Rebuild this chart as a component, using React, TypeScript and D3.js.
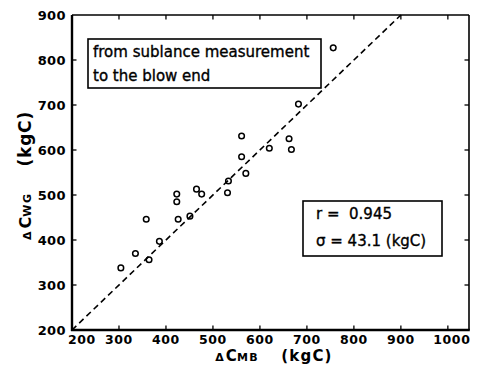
import React from "react";
import * as d3 from "d3";

const cmb = [304, 335, 358, 364, 386, 423, 423, 426, 451, 465, 476, 531, 533, 561, 561, 570, 620, 662, 667, 682, 756];
const cwg = [338, 370, 446, 356, 397, 502, 485, 446, 453, 513, 502, 505, 531, 631, 585, 548, 604, 625, 601, 702, 827];
const xTicks = [200, 300, 400, 500, 600, 700, 800, 900, 1000];
const yTicks = [200, 300, 400, 500, 600, 700, 800, 900];
const refLine = [200, 900];
const noteLines = ["from sublance measurement", "to the blow end"];
const statLines = ["r =  0.945", "σ = 43.1 (kgC)"];

const W = 477, H = 372;
const M = { left: 72, right: 469, top: 15, bottom: 330 };
const FONT = "'DejaVu Sans', Arial, sans-serif";

export default function App() {
  const x = d3.scaleLinear().domain([200, 1045]).range([M.left, M.right]);
  const y = d3.scaleLinear().domain([200, 900]).range([M.bottom, M.top]);
  const line = d3.line<number>().x((d) => x(d)).y((d) => y(d));
  const pts = cmb.map((v, i) => ({ x: v, y: cwg[i] }));
  const tl = 4.5;
  return (
    <div style={{ position: "absolute", left: 0, top: 0 }}>
      <svg width={W} height={H} style={{ display: "block", background: "#fff" }}>
        {/* frame */}
        <line x1={M.left} y1={M.top} x2={M.right} y2={M.top} stroke="#000" strokeWidth={1.6} />
        <line x1={M.right} y1={M.top} x2={M.right} y2={M.bottom} stroke="#000" strokeWidth={1.6} />
        <line x1={M.left} y1={M.top} x2={M.left} y2={M.bottom + 1} stroke="#000" strokeWidth={2.4} />
        <line x1={M.left - 1} y1={M.bottom} x2={M.right + 0.8} y2={M.bottom} stroke="#000" strokeWidth={2.6} />
        {/* ticks */}
        {xTicks.slice(1).map((t) => (
          <g key={"xt" + t}>
            <line x1={x(t)} x2={x(t)} y1={M.bottom} y2={M.bottom - tl} stroke="#000" strokeWidth={1.3} />
            <line x1={x(t)} x2={x(t)} y1={M.top} y2={M.top + tl} stroke="#000" strokeWidth={1.3} />
          </g>
        ))}
        {yTicks.slice(1, -1).map((t) => (
          <g key={"yt" + t}>
            <line x1={M.left} x2={M.left + tl} y1={y(t)} y2={y(t)} stroke="#000" strokeWidth={1.3} />
            <line x1={M.right} x2={M.right - tl} y1={y(t)} y2={y(t)} stroke="#000" strokeWidth={1.3} />
          </g>
        ))}
        {/* tick labels */}
        {xTicks.map((t, i) => (
          <text
            key={"xl" + t}
            x={i === 0 ? x(t) - 4 : i === xTicks.length - 1 ? x(t) + 4 : x(t)}
            y={M.bottom + 13.5}
            textAnchor={i === 0 ? "start" : "middle"}
            fontFamily={FONT}
            fontWeight="bold"
            fontSize={12.5}
            letterSpacing={0.6}
            fill="#000"
          >
            {t}
          </text>
        ))}
        {yTicks.map((t) => (
          <text
            key={"yl" + t}
            x={M.left - 6}
            y={y(t) + 4.8}
            textAnchor="end"
            fontFamily={FONT}
            fontWeight="bold"
            fontSize={13}
            letterSpacing={0.4}
            fill="#000"
          >
            {t}
          </text>
        ))}
        {/* reference line */}
        <path d={line(refLine) || ""} fill="none" stroke="#000" strokeWidth={1.6} strokeDasharray="6,4" />
        {/* points */}
        {pts.map((p, i) => (
          <circle key={i} cx={x(p.x)} cy={y(p.y)} r={2.8} fill="none" stroke="#000" strokeWidth={1.5} />
        ))}
        {/* note box */}
        <rect x={88} y={39} width={233} height={49} fill="#fff" stroke="#000" strokeWidth={1.6} />
        {noteLines.map((s, i) => (
          <text key={s} x={93} y={57 + i * 24} fontFamily={FONT} fontSize={15} fill="#000" stroke="#000" strokeWidth={0.35}>
            {s}
          </text>
        ))}
        {/* stats box */}
        <rect x={303} y={201} width={139} height={55} fill="#fff" stroke="#000" strokeWidth={1.6} />
        {statLines.map((s, i) => (
          <text key={s} x={316} y={219 + i * 27} fontFamily={FONT} fontSize={15} fill="#000" stroke="#000" strokeWidth={0.35} style={{ whiteSpace: "pre" }}>
            {s}
          </text>
        ))}
        {/* x title */}
        <text x={274} y={361} textAnchor="middle" fontFamily={FONT} fontWeight="bold" fill="#000" style={{ whiteSpace: "pre" }}>
          <tspan fontSize={11}>Δ</tspan>
          <tspan fontSize={15} dx={2}>C</tspan>
          <tspan fontSize={11} letterSpacing={1.5}>MB</tspan>
          <tspan fontSize={15} dx={22} letterSpacing={1.2}>(kgC)</tspan>
        </text>
        {/* y title */}
        <text
          transform={`translate(31,${(M.top + M.bottom) / 2 + 3}) rotate(-90)`}
          textAnchor="middle"
          fontFamily={FONT}
          fontWeight="bold"
          fill="#000"
          style={{ whiteSpace: "pre" }}
        >
          <tspan fontSize={11}>Δ</tspan>
          <tspan fontSize={16} dx={3}>C</tspan>
          <tspan fontSize={11} letterSpacing={1.5}>WG</tspan>
          <tspan fontSize={17} dx={26} letterSpacing={0.8}>(kgC)</tspan>
        </text>
      </svg>
    </div>
  );
}
